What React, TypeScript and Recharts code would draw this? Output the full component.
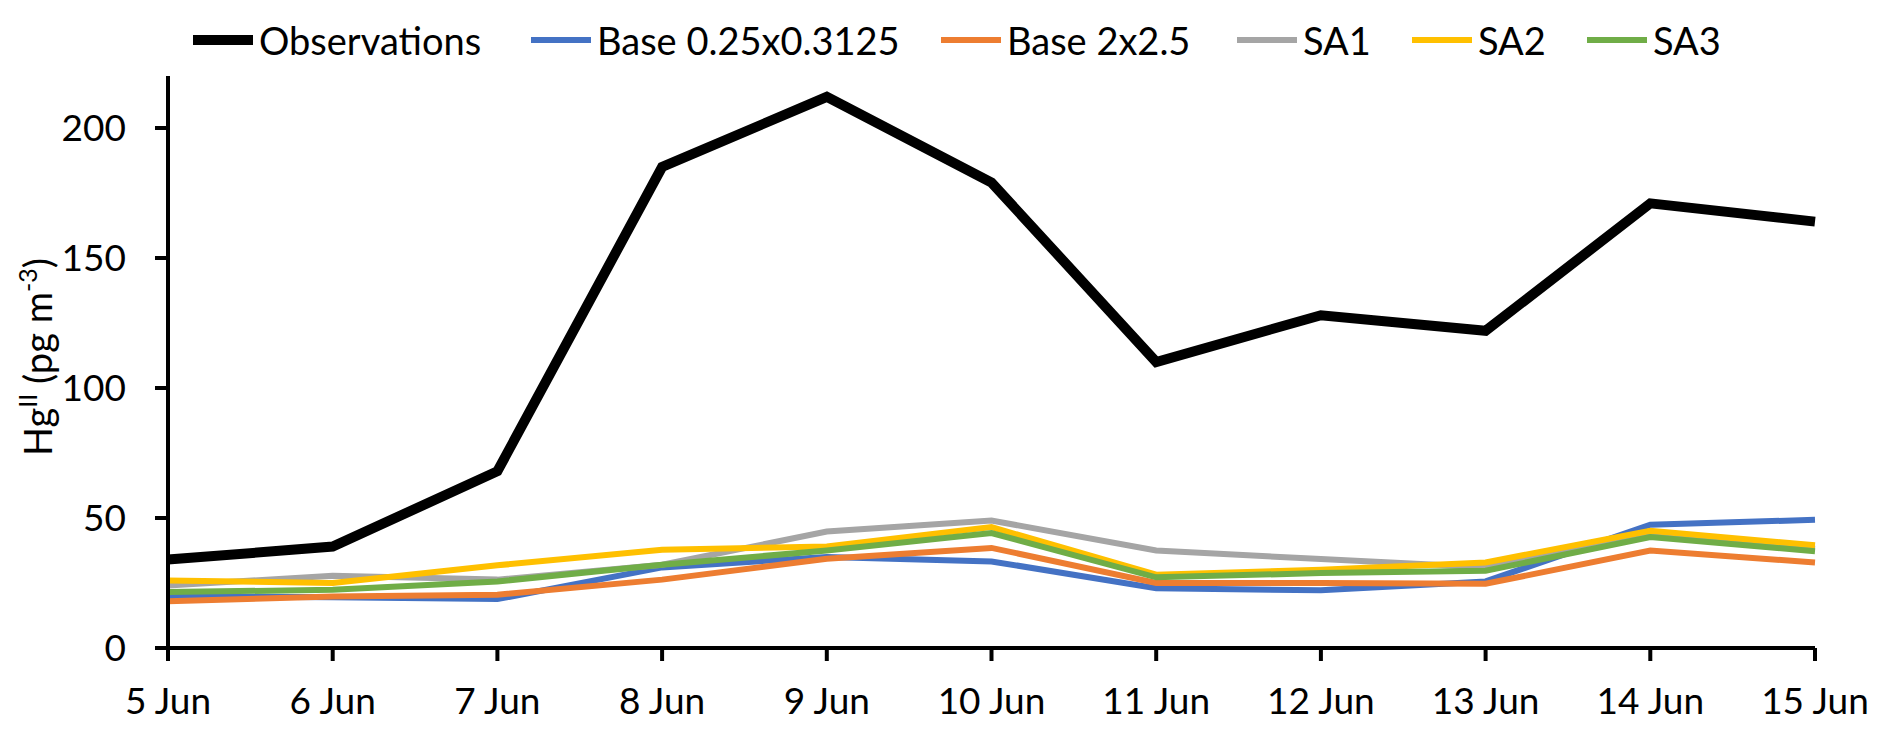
import React from 'react';
import { LineChart, Line, XAxis, YAxis, Legend } from 'recharts';

const days = ['5 Jun', '6 Jun', '7 Jun', '8 Jun', '9 Jun', '10 Jun', '11 Jun', '12 Jun', '13 Jun', '14 Jun', '15 Jun'];
const observations = [34, 39, 68, 185, 212, 179, 110, 128, 122, 171, 164];
const base025 = [20, 19.5, 18.8, 31, 35, 33.3, 23, 22.2, 25.6, 47.4, 49.3];
const base2x25 = [18, 19.8, 20.5, 26.3, 34.3, 38.5, 25, 25, 24.7, 37.5, 32.9];
const sa1 = [24, 27.8, 26.3, 32, 44.8, 49, 37.5, 34.2, 31.1, 44.2, 38.2];
const sa2 = [26, 25, 31.8, 37.8, 39, 46.5, 28.2, 30.1, 32.9, 45.1, 39.5];
const sa3 = [21.5, 22.4, 25.6, 32, 37.5, 44.2, 27.2, 28.8, 29.7, 42.7, 37.2];
const yTicks = [0, 50, 100, 150, 200];

const seriesDefs = [
  { key: 'obs', name: 'Observations', color: '#000000', width: 10, values: observations },
  { key: 'base025', name: 'Base 0.25x0.3125', color: '#4472C4', width: 6, values: base025 },
  { key: 'base2x25', name: 'Base 2x2.5', color: '#ED7D31', width: 6, values: base2x25 },
  { key: 'sa1', name: 'SA1', color: '#A5A5A5', width: 6, values: sa1 },
  { key: 'sa2', name: 'SA2', color: '#FFC000', width: 6, values: sa2 },
  { key: 'sa3', name: 'SA3', color: '#70AD47', width: 6, values: sa3 },
];

const legendX = [193, 531, 941, 1237, 1412, 1587];

const data = days.map((day, i) => {
  const row: Record<string, any> = { day };
  seriesDefs.forEach((s) => {
    row[s.key] = s.values[i];
  });
  return row;
});

const FONT = 'Lato, "Noto Sans", sans-serif';
const FS = 37;

const renderLegend = (props: any) => {
  const payload = props.payload || [];
  return (
    <div style={{ position: 'relative', width: 1892, height: 50, fontFamily: FONT, fontSize: 38, color: '#000' }}>
      {seriesDefs.map((def, i) => {
        const entry = payload.find((p: any) => p.dataKey === def.key) || { value: def.name, color: def.color };
        return (
          <div
            key={def.key}
            style={{ position: 'absolute', left: legendX[i], top: 0, height: 50, display: 'flex', alignItems: 'center', whiteSpace: 'nowrap' }}
          >
            <span style={{ display: 'inline-block', width: 60, height: def.width, background: entry.color, marginRight: 6 }} />
            <span style={{ lineHeight: '50px' }}>{entry.value}</span>
          </div>
        );
      })}
    </div>
  );
};

const YTitle = (props: any) => {
  const x = 52;
  const y = 357;
  return (
    <text
      x={x}
      y={y}
      transform={`rotate(-90, ${x}, ${y})`}
      textAnchor="middle"
      fontFamily={FONT}
      fontSize={38}
      fill="#000"
    >
      <tspan>Hg</tspan>
      <tspan fontSize={25} dy={-15}>II</tspan>
      <tspan fontSize={38} dy={15}> (pg m</tspan>
      <tspan fontSize={25} dy={-15}>-3</tspan>
      <tspan fontSize={38} dy={15}>)</tspan>
    </text>
  );
};

export default function App() {
  return (
    <div style={{ position: 'absolute', left: 0, top: 0, width: 1892, height: 739, background: '#fff', fontFamily: FONT }}>
      <LineChart width={1892} height={739} data={data} margin={{ top: 76, right: 77, bottom: 0, left: 0 }}>
        <XAxis
          dataKey="day"
          interval={0}
          axisLine={{ stroke: '#000', strokeWidth: 4 }}
          tickLine={{ stroke: '#000', strokeWidth: 4 }}
          tickSize={13}
          tickMargin={27}
          tick={{ fill: '#000', fontSize: FS, fontFamily: FONT }}
          height={91}
        />
        <YAxis
          domain={[0, 220]}
          ticks={yTicks}
          width={168}
          axisLine={{ stroke: '#000', strokeWidth: 4 }}
          tickLine={{ stroke: '#000', strokeWidth: 4 }}
          tickSize={13}
          tickMargin={29}
          tick={{ fill: '#000', fontSize: FS, fontFamily: FONT }}
          label={{ content: YTitle }}
        />
        <Legend
          layout="horizontal"
          verticalAlign="middle"
          align="center"
          wrapperStyle={{ top: 15, left: 0, width: 1892 }}
          content={renderLegend}
        />
        {seriesDefs.map((s) => (
          <Line
            key={s.key}
            type="linear"
            dataKey={s.key}
            name={s.name}
            stroke={s.color}
            strokeWidth={s.width}
            dot={false}
            activeDot={false}
            isAnimationActive={false}
            strokeLinejoin="miter"
          />
        ))}
      </LineChart>
    </div>
  );
}
